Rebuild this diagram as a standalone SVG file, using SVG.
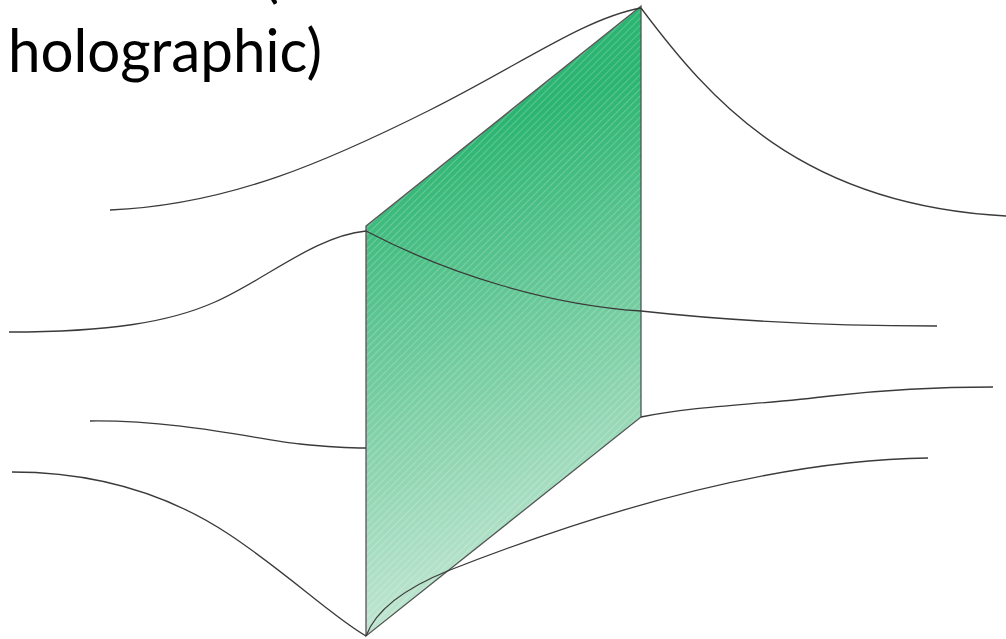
<svg xmlns="http://www.w3.org/2000/svg" width="1006" height="639" viewBox="0 0 1006 639">
  <style>
    .curve { fill: none; stroke: #3a3a3a; stroke-width: 1.3; }
    .label { font-family: "Lato", "Open Sans", "Liberation Sans", sans-serif; font-size: 60px; fill: #000; }
  </style>
  <defs>
    <linearGradient id="green" gradientUnits="userSpaceOnUse" x1="420" y1="150" x2="570" y2="600">
      <stop offset="0" stop-color="#2cb572"/>
      <stop offset="1" stop-color="#cbe9d8"/>
    </linearGradient>
    <pattern id="hatch" width="5" height="5" patternUnits="userSpaceOnUse" patternTransform="rotate(45)">
      <rect x="0" y="0" width="1" height="5" fill="#ffffff" fill-opacity="0.22"/>
    </pattern>
  </defs>
  <rect width="1006" height="639" fill="#ffffff"/>

  <g id="label">
    <text class="label" x="263" y="-4">(</text>
    <text class="label" x="8" y="72" textLength="314" lengthAdjust="spacingAndGlyphs">holographic)</text>
  </g>

  <g id="screen">
    <polygon points="366,226 641,6 641,417 366,636" fill="url(#green)"/>
    <polygon points="366,226 641,6 641,417 366,636" fill="url(#hatch)" stroke="#555" stroke-width="1.3" stroke-linejoin="miter"/>
  </g>

  <g id="connectors">
    <path class="curve" d="M110,210 C 230,205 330,160 430,110 C 520,65 585,18 641,8"/>
    <path class="curve" d="M641,8 C 710,100 800,205 1006,216"/>
    <path class="curve" d="M9,332 C 110,332 170,322 215,302 C 265,280 315,236 366,231"/>
    <path class="curve" d="M366,231 C 450,275 550,305 641,311 C 740,322 850,326 937,326"/>
    <path class="curve" d="M90,421 C 180,420 260,440 300,444 C 330,447 350,448 366,448"/>
    <path class="curve" d="M641,417 C 700,405 760,405 830,396 C 900,388 950,387 993,387"/>
    <path class="curve" d="M12,472 C 100,472 170,495 230,535 C 290,575 330,615 366,636"/>
    <path class="curve" d="M366,636 C 375,612 400,590 450,570 C 560,527 750,460 928,458"/>
  </g>
</svg>
